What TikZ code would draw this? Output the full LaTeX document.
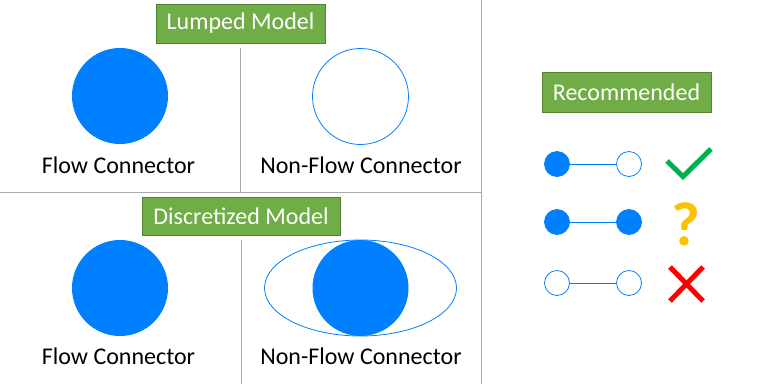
\documentclass[tikz,border=0pt]{standalone}
\usepackage{fontspec}
\setmainfont{Carlito}
\usetikzlibrary{shapes.geometric}
\definecolor{cblue}{RGB}{0,128,255}
\definecolor{gfill}{RGB}{112,173,71}
\definecolor{gdraw}{RGB}{84,130,53}
\definecolor{sep}{RGB}{170,170,170}
\definecolor{okgreen}{RGB}{0,176,80}
\definecolor{qyellow}{RGB}{255,192,0}
\begin{document}
\begin{tikzpicture}[x=1pt,y=-1pt,
  title/.style={draw=gdraw,fill=gfill,text=white,font=\fontsize{24}{28}\selectfont,inner sep=0pt,line width=0.8pt},
  lbl/.style={font=\fontsize{24}{28}\selectfont,inner sep=0pt},
  bigfull/.style={circle,fill=cblue,minimum size=96pt,inner sep=0pt},
  bigopen/.style={circle,draw=cblue,line width=0.8pt,minimum size=96pt,inner sep=0pt},
  smfull/.style={circle,fill=cblue,draw=cblue,line width=0.8pt,minimum size=25pt,inner sep=0pt},
  smopen/.style={circle,fill=white,draw=cblue,line width=0.8pt,minimum size=25pt,inner sep=0pt},
  link/.style={draw=cblue,line width=0.8pt},
  sepline/.style={draw=sep,line width=0.8pt}]
\useasboundingbox (0,0) rectangle (768,384);
\fill[white] (0,0) rectangle (768,384);
% separators
\coordinate (v1t) at (481,0); \coordinate (v1b) at (481,384);
\coordinate (h1l) at (0,192); \coordinate (h1r) at (481,192);
\coordinate (v2t) at (240.5,48); \coordinate (v2b) at (240.5,192);
\coordinate (v3t) at (241,240); \coordinate (v3b) at (241,384);
\draw[sepline] (v1t) -- (v1b);
\draw[sepline] (h1l) -- (h1r);
\draw[sepline] (v2t) -- (v2b);
\draw[sepline] (v3t) -- (v3b);
% top panel
\node[title,minimum width=169pt,minimum height=39pt] (lumped) at (240.5,23.5) {Lumped Model};
\node[bigfull] (c1) at (120,96) {};
\node[bigopen] (c2) at (360.5,96.5) {};
\node[lbl] (t1) at (118.5,165) {Flow Connector};
\node[lbl] (t2) at (361,165) {Non-Flow Connector};
% bottom panel
\node[title,minimum width=198pt,minimum height=38pt] (disc) at (241,216) {Discretized Model};
\node[bigfull] (c3) at (120,288) {};
\node[ellipse,draw=cblue,line width=0.8pt,minimum width=192pt,minimum height=96pt,inner sep=0pt] (e4) at (360.5,288) {};
\node[bigfull] (c4) at (360.5,288) {};
\node[lbl] (t3) at (118.5,356) {Flow Connector};
\node[lbl] (t4) at (361,356) {Non-Flow Connector};
% right panel
\node[title,minimum width=169pt,minimum height=40pt] (rec) at (626.5,92) {Recommended};
\node[smfull] (a1) at (557,164) {};
\node[smopen] (b1) at (629,164) {};
\draw[link] (a1) -- (b1);
\node[smfull] (a2) at (557,222) {};
\node[smfull] (b2) at (629,222) {};
\draw[link] (a2) -- (b2);
\node[smopen] (a3) at (557,283) {};
\node[smopen] (b3) at (629,283) {};
\draw[link] (a3) -- (b3);
% marks
\draw[okgreen,line width=5pt] (667,161) -- (683,176.5) -- (711,149);
\node[text=qyellow,font=\fontsize{62}{70}\selectfont\bfseries,inner sep=0pt] (q) at (686,224) {?};
\draw[red,line width=5pt] (670,267) -- (703,301);
\draw[red,line width=5pt] (703,267) -- (670,301);
\end{tikzpicture}
\end{document}
